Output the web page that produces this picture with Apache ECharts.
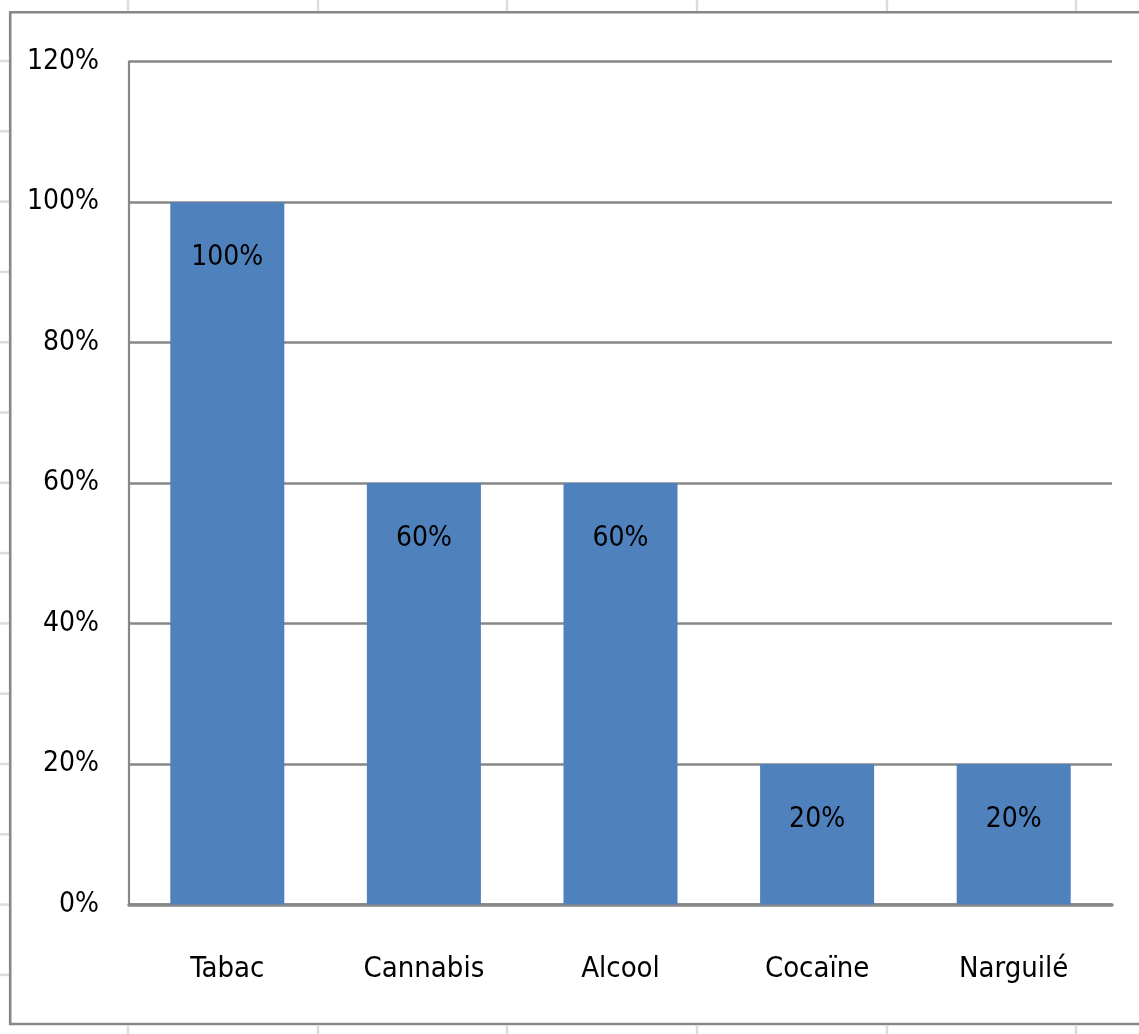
<!DOCTYPE html>
<html>
<head>
<meta charset="utf-8">
<title>Consommation</title>
<script src="https://cdn.jsdelivr.net/npm/echarts@6/dist/echarts.min.js"></script>
<style>
  html, body { margin: 0; padding: 0; background: #fff; }
  #chart { width: 1139px; height: 1034px; }
</style>
</head>
<body>
<div id="chart"></div>
<script>
// Substances and share of respondents (%)
const categories = ['Tabac', 'Cannabis', 'Alcool', 'Cocaïne', 'Narguilé'];
const values = [100, 60, 60, 20, 20];
// Value axis range
const axisMin = 0;
const axisMax = 120;
const axisStep = 20;

const FONT = "'Liberation Sans Narrow', 'DejaVu Sans Condensed', 'Roboto Condensed', 'Liberation Sans', sans-serif";
const GRID_GRAY = '#878787';
const SHEET_GRAY = '#dcdcdc';

// Faint worksheet cell lines peeking out around the chart frame
const sheetCols = [128, 318, 507, 697, 887, 1076];
const sheetRows = [];
for (let i = 0; i < 14; i++) sheetRows.push(61 + i * 70.3);

const graphics = [];
sheetCols.forEach(x => {
  graphics.push({ type: 'line', silent: true, z: 0,
    shape: { x1: x, y1: 0, x2: x, y2: 11 }, style: { stroke: SHEET_GRAY, lineWidth: 2.5 } });
  graphics.push({ type: 'line', silent: true, z: 0,
    shape: { x1: x, y1: 1026, x2: x, y2: 1034 }, style: { stroke: SHEET_GRAY, lineWidth: 2.5 } });
});
sheetRows.forEach(y => {
  graphics.push({ type: 'line', silent: true, z: 0,
    shape: { x1: 0, y1: y, x2: 9, y2: y }, style: { stroke: SHEET_GRAY, lineWidth: 2.5 } });
});
// Chart frame
graphics.push({ type: 'polyline', silent: true, z: 1,
  shape: { points: [[1145, 12.3], [10.2, 12.3], [10.2, 1024], [1145, 1024]] },
  style: { stroke: GRID_GRAY, lineWidth: 2.6, fill: null } });

const chart = echarts.init(document.getElementById('chart'), null, { renderer: 'canvas' });
chart.setOption({
  animation: false,
  backgroundColor: '#ffffff',
  textStyle: { fontFamily: FONT },
  graphic: graphics,
  grid: { left: 129, right: 27, top: 61.7, bottom: 129.5, containLabel: false },
  xAxis: {
    type: 'category',
    data: categories,
    axisTick: { show: false },
    axisLine: { show: true, lineStyle: { color: GRID_GRAY, width: 3.5 } },
    axisLabel: { color: '#000', fontSize: 29, fontFamily: FONT, margin: 50 }
  },
  yAxis: {
    type: 'value',
    min: axisMin,
    max: axisMax,
    interval: axisStep,
    axisLine: { show: true, lineStyle: { color: GRID_GRAY, width: 2.2 } },
    axisTick: { show: false },
    splitLine: { show: true, lineStyle: { color: GRID_GRAY, width: 2.6 } },
    axisLabel: { color: '#000', fontSize: 28, fontFamily: FONT, margin: 30,
      formatter: v => v + '%' }
  },
  series: [{
    type: 'bar',
    data: values,
    barCategoryGap: '42%',
    itemStyle: { color: '#4F81BD' },
    label: {
      show: true,
      position: 'insideTop',
      distance: 42,
      color: '#000',
      fontSize: 28,
      lineHeight: 28,
      fontFamily: FONT,
      formatter: p => p.value + '%'
    }
  }]
});
</script>
</body>
</html>
